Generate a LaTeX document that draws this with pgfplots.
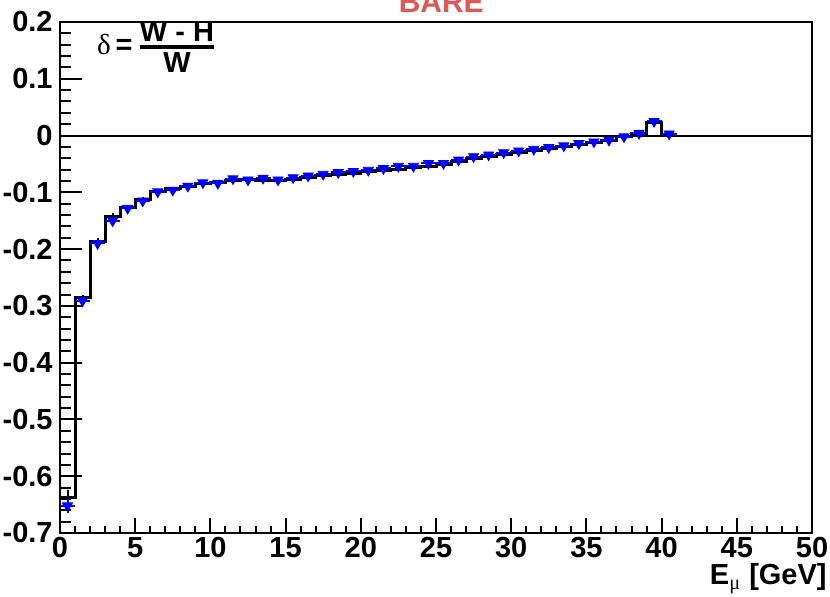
\documentclass[border=0pt]{standalone}
\usepackage{pgfplots}
\pgfplotsset{compat=1.18}
\usepackage{amsmath}
\usepackage{fontspec}
\setmainfont{Liberation Sans}
\newfontfamily\symf{Liberation Serif}
\definecolor{titlered}{RGB}{222,88,88}
\newcommand{\lbl}{\bfseries\fontsize{14.5}{16}\selectfont}

% histogram (bin left edge, content)
\pgfplotstableread{
x y
0 -0.637
1 -0.285
2 -0.186
3 -0.142
4 -0.126
5 -0.112
6 -0.099
7 -0.093
8 -0.089
9 -0.085
10 -0.083
11 -0.079
12 -0.078
13 -0.079
14 -0.080
15 -0.077
16 -0.074
17 -0.071
18 -0.068
19 -0.066
20 -0.064
21 -0.062
22 -0.059
23 -0.057
24 -0.054
25 -0.051
26 -0.045
27 -0.040
28 -0.037
29 -0.033
30 -0.030
31 -0.026
32 -0.023
33 -0.020
34 -0.016
35 -0.012
36 -0.008
37 -0.002
38 0.003
39 0.023
40 0
}\histdata

% histogram errors at bin centres
\pgfplotstableread{
x y ey
0.5 -0.637 0.013
1.5 -0.285 0.005
2.5 -0.186 0.005
3.5 -0.142 0.005
4.5 -0.126 0.004
5.5 -0.112 0.004
6.5 -0.099 0.003
7.5 -0.093 0.003
8.5 -0.089 0.003
}\histerr

% blue markers (bin centre, value, error)
\pgfplotstableread{
x y ey
0.5 -0.652 0.012
1.5 -0.291 0.005
2.5 -0.190 0.004
3.5 -0.150 0.004
4.5 -0.128 0.003
5.5 -0.115 0.003
6.5 -0.099 0.003
7.5 -0.096 0.003
8.5 -0.089 0.003
9.5 -0.083 0.003
10.5 -0.084 0.003
11.5 -0.076 0.003
12.5 -0.078 0.003
13.5 -0.075 0.003
14.5 -0.078 0.003
15.5 -0.074 0.003
16.5 -0.071 0.003
17.5 -0.068 0.003
18.5 -0.065 0.003
19.5 -0.063 0.003
20.5 -0.061 0.003
21.5 -0.058 0.003
22.5 -0.054 0.003
23.5 -0.054 0.003
24.5 -0.049 0.003
25.5 -0.049 0.003
26.5 -0.043 0.003
27.5 -0.037 0.003
28.5 -0.034 0.003
29.5 -0.030 0.003
30.5 -0.027 0.003
31.5 -0.024 0.003
32.5 -0.021 0.003
33.5 -0.018 0.003
34.5 -0.014 0.003
35.5 -0.011 0.003
36.5 -0.008 0.003
37.5 -0.002 0.003
38.5 0.004 0.003
39.5 0.025 0.003
40.5 0.003 0.003
}\markdata

\begin{document}
\begin{tikzpicture}
\begin{axis}[
    at={(0,0)}, anchor=south west,
    scale only axis,
    width=376pt, height=255.5pt,
    xmin=0, xmax=50,
    ymin=-0.7, ymax=0.2,
    clip mode=individual,
    axis line style={line width=1.2pt},
    tick align=inside,
    xtick pos=bottom, ytick pos=left,
    xtick={0,5,...,50},
    xticklabels={0,5,10,15,20,25,30,35,40,45,50},
    ytick={-0.7,-0.6,-0.5,-0.4,-0.3,-0.2,-0.1,0,0.1,0.2},
    yticklabels={-0.7,-0.6,-0.5,-0.4,-0.3,-0.2,-0.1,0,0.1,0.2},
    minor x tick num=4,
    minor y tick num=4,
    every tick/.style={black, line width=1pt},
    xtick style={/pgfplots/major tick length=7.5pt, /pgfplots/minor tick length=3.5pt},
    ytick style={/pgfplots/major tick length=11pt, /pgfplots/minor tick length=5.5pt},
    ticklabel style={font=\lbl},
    xticklabel style={inner sep=2pt},
    yticklabel style={inner sep=2pt, xshift=-1.5pt},
]
    % zero line
    \addplot[black, line width=1pt] coordinates {(0,0) (50,0)};

    % histogram
    \addplot[const plot, black, line width=1.5pt] table[x=x, y=y] {\histdata};
    \addplot[draw=none, mark=none, error bars/.cd, y dir=both, y explicit,
             error mark=none, error bar style={draw=black, solid, line width=1pt}]
        table[x=x, y=y, y error=ey] {\histerr};

    % markers
    \addplot[only marks, blue, mark=triangle*, mark size=2.9pt,
             mark options={rotate=180, fill=blue, draw=blue},
             error bars/.cd, x dir=both, y dir=both, x fixed=0.5, y explicit,
             error mark=none, error bar style={blue, line width=1pt}]
        table[x=x, y=y, y error=ey] {\markdata};

    \node[anchor=base west, font=\lbl, inner sep=0pt] at (axis cs:2.45,0.143)
        {{\symf\mdseries δ}\,=\,$\genfrac{}{}{1.8pt}{1}{\mbox{W - H}}{\raisebox{2pt}{W}}$};
    \node[anchor=base, font=\bfseries\fontsize{15}{17}\selectfont, text=titlered]
        at (rel axis cs:0.507,1) [yshift=5pt] {BARE};
    \node[anchor=base east, font=\lbl, inner sep=0pt]
        at (rel axis cs:1,0) [xshift=7.5pt, yshift=-26pt]
        {E\textsubscript{\symf\mdseries μ} [GeV]};
\end{axis}
\pgfresetboundingbox
\useasboundingbox (-30pt,-32pt) rectangle (385pt,266.5pt);
\end{tikzpicture}
\end{document}
